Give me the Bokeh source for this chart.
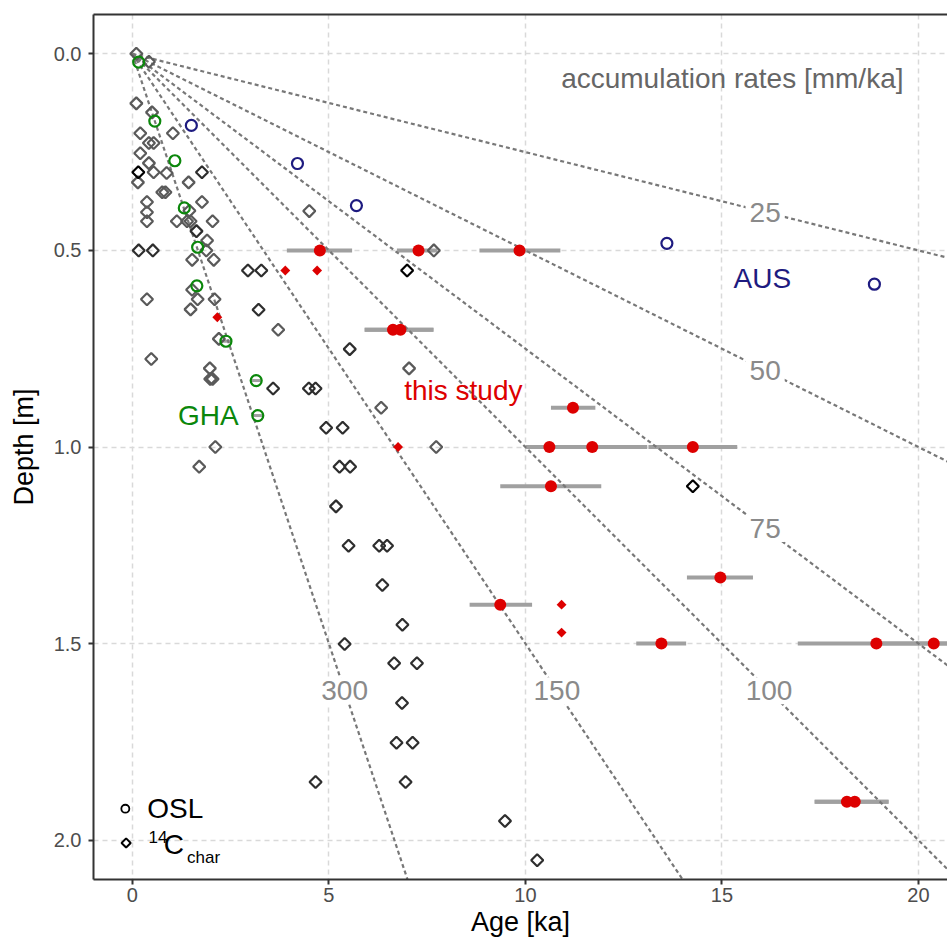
import math
from bokeh.plotting import figure
from bokeh.models import (Range1d, FixedTicker, PrintfTickFormatter, LinearAxis,
                          Label, ColumnDataSource)
from bokeh.embed import file_html
from bokeh.resources import INLINE

FONT = "Liberation Sans"

# ---------------- data ----------------
x_ticks = [0, 5, 10, 15, 20]
y_ticks = [0.0, 0.5, 1.0, 1.5, 2.0]

# accumulation rates [mm/ka] for the reference lines
rates = [25, 50, 75, 100, 150, 300]
rate_label_age = [16.1, 16.1, 16.1, 16.2, 10.8, 5.4]

# 14C charcoal ages, literature (grey)
c14_gray_age = [0.10, 0.42, 0.10, 0.50, 0.20, 1.03, 0.42, 0.54, 0.20, 0.42,
                0.54, 0.87, 0.14, 1.43, 0.76, 0.84, 0.37, 1.77, 1.45, 0.37,
                0.37, 1.13, 1.39, 1.48, 2.04, 1.90, 1.88, 1.52, 2.07, 1.52,
                1.66, 0.37, 2.09, 1.48, 2.20, 0.48, 1.97, 1.98, 2.04, 2.11,
                1.70, 4.50, 7.67, 3.71, 6.33, 7.04, 7.73]
c14_gray_depth = [0.000, 0.020, 0.126, 0.149, 0.202, 0.202, 0.227, 0.227, 0.253, 0.278,
                  0.301, 0.303, 0.327, 0.327, 0.352, 0.352, 0.377, 0.377, 0.399, 0.403,
                  0.426, 0.426, 0.426, 0.426, 0.426, 0.475, 0.500, 0.524, 0.524, 0.600,
                  0.624, 0.624, 0.624, 0.650, 0.725, 0.776, 0.800, 0.827, 0.827, 1.000,
                  1.050, 0.400, 0.500, 0.702, 0.900, 0.800, 1.000]

# 14C charcoal ages, literature (dark)
c14_dark_age = [0.16, 0.52, 1.63, 1.77, 2.94, 3.28, 3.21, 3.58, 4.49, 4.66,
                5.53, 4.93, 5.35, 5.27, 5.54, 5.18, 5.50, 6.28, 6.48, 6.36,
                6.87, 5.40, 6.66, 7.24, 6.86, 6.72, 7.13, 6.95, 4.66, 9.48,
                10.30, 7.56, 9.64]
c14_dark_depth = [0.500, 0.500, 0.451, 0.301, 0.551, 0.551, 0.651, 0.851, 0.851, 0.851,
                  0.751, 0.951, 0.951, 1.050, 1.050, 1.151, 1.251, 1.251, 1.251, 1.351,
                  1.452, 1.501, 1.550, 1.550, 1.651, 1.752, 1.752, 1.852, 1.852, 1.951,
                  2.051, 2.152, 2.152]

# 14C charcoal ages, literature (black)
c14_black_age = [0.15, 6.99, 14.26]
c14_black_depth = [0.301, 0.551, 1.100]

# 14C charcoal ages, this study
c14_study_age = [3.89, 4.70, 2.16, 6.76, 10.92, 10.92]
c14_study_depth = [0.551, 0.551, 0.670, 1.000, 1.401, 1.472]

# OSL, GHA
gha_age = [0.16, 0.57, 1.08, 1.32, 1.66, 1.64, 2.38, 3.15, 3.19]
gha_depth = [0.021, 0.171, 0.272, 0.392, 0.492, 0.590, 0.731, 0.831, 0.920]
gha_err_lo = [0.16, 0.57, 1.08, 1.32, 1.66, 1.64, 2.25, 3.02, 3.06]
gha_err_hi = [0.16, 0.57, 1.08, 1.32, 1.66, 1.64, 2.51, 3.28, 3.32]

# OSL, AUS
aus_age = [1.50, 4.20, 5.70, 13.60, 18.88]
aus_depth = [0.182, 0.279, 0.386, 0.482, 0.586]

# OSL, this study (age, depth, error range)
osl_age = [4.77, 7.28, 9.85, 6.63, 6.82, 11.21, 10.61, 11.70, 14.26, 10.65,
           14.96, 9.36, 13.46, 18.93, 20.39, 18.18, 18.38]
osl_depth = [0.500, 0.500, 0.500, 0.702, 0.702, 0.900, 1.000, 1.000, 1.000, 1.100,
             1.332, 1.401, 1.500, 1.500, 1.500, 1.902, 1.902]
osl_lo = [3.93, 6.73, 8.83, 5.91, 5.91, 10.65, 10.00, 10.30, 13.13, 9.36,
          14.11, 8.58, 12.82, 16.93, 19.00, 17.36, 17.36]
osl_hi = [5.59, 7.76, 10.89, 7.66, 7.66, 11.78, 11.20, 13.10, 15.39, 11.93,
          15.79, 10.17, 14.09, 20.93, 21.80, 19.24, 19.24]

# ---------------- colours ----------------
RED = "#dd0000"
GREEN = "#0b870b"
NAVY = "#1e1b80"
BAR = "#a0a0a0"

p = figure(width=947, height=943, output_backend="svg", toolbar_location=None,
           x_range=Range1d(-0.99, 20.74), y_range=Range1d(2.1, -0.1),
           min_border_left=93, min_border_right=0, min_border_top=14,
           min_border_bottom=64,
           x_axis_label="Age [ka]", y_axis_label="Depth [m]")
p.outline_line_color = None
p.background_fill_color = "white"
p.border_fill_color = "white"

for ax in (p.xaxis[0], p.yaxis[0]):
    ax.axis_line_width = 2
    ax.axis_line_color = "#333333"
    ax.major_tick_line_color = "#333333"
    ax.major_tick_line_width = 2
    ax.major_tick_out = 5
    ax.major_tick_in = 0
    ax.minor_tick_line_color = None
    ax.major_label_text_font = FONT
    ax.major_label_text_font_size = "20px"
    ax.major_label_text_color = "#4d4d4d"
    ax.axis_label_text_font = FONT
    ax.axis_label_text_font_size = "27px"
    ax.axis_label_text_font_style = "normal"
    ax.axis_label_text_color = "black"

p.xaxis[0].ticker = FixedTicker(ticks=x_ticks)
p.yaxis[0].ticker = FixedTicker(ticks=y_ticks)
p.yaxis[0].formatter = PrintfTickFormatter(format="%.1f")
p.xaxis[0].major_label_standoff = 3
p.xaxis[0].axis_label_standoff = 2
p.yaxis[0].major_label_standoff = 7
p.yaxis[0].axis_label_standoff = 12

top = LinearAxis(ticker=FixedTicker(ticks=[]), axis_line_width=2,
                 axis_line_color="#333333", major_tick_out=0, major_tick_in=0,
                 minor_tick_out=0, minor_tick_in=0, major_label_standoff=0,
                 major_label_text_font_size="0px")
p.add_layout(top, "above")

p.grid.grid_line_color = "#d9d9d9"
p.grid.grid_line_dash = "5 4"
p.grid.grid_line_width = 1.5
p.xgrid.ticker = FixedTicker(ticks=x_ticks)
p.ygrid.ticker = FixedTicker(ticks=y_ticks)

# error bars (drawn first)
p.segment(x0=osl_lo, y0=osl_depth, x1=osl_hi, y1=osl_depth,
          line_color=BAR, line_width=4)
p.segment(x0=gha_err_lo, y0=gha_depth, x1=gha_err_hi, y1=gha_depth,
          line_color=BAR, line_width=3)

# accumulation-rate reference lines
age_end = 30.0
rate_src = ColumnDataSource(dict(
    x0=[0.0] * len(rates), y0=[0.0] * len(rates),
    x1=[age_end] * len(rates), y1=[r * age_end / 1000.0 for r in rates]))
p.segment(x0="x0", y0="y0", x1="x1", y1="y1", source=rate_src,
          line_color="#787878", line_width=2.2, line_dash="4 3")

DIAM = math.pi / 4
p.scatter(c14_gray_age, c14_gray_depth, marker="square", angle=DIAM, size=8.5,
          fill_color=None, line_color="#5a5a5a", line_width=2.2)
p.scatter(c14_dark_age, c14_dark_depth, marker="square", angle=DIAM, size=8.5,
          fill_color=None, line_color="#2e2e2e", line_width=2.2)
p.scatter(c14_black_age, c14_black_depth, marker="square", angle=DIAM, size=8.5,
          fill_color=None, line_color="#000000", line_width=2.2)
p.scatter(c14_study_age, c14_study_depth, marker="square", angle=DIAM, size=7,
          fill_color=RED, line_color=None)

p.scatter(gha_age, gha_depth, marker="circle", size=11, fill_color=None,
          line_color=GREEN, line_width=2.2)
p.scatter(aus_age, aus_depth, marker="circle", size=11, fill_color=None,
          line_color=NAVY, line_width=2.2)
p.scatter(osl_age, osl_depth, marker="circle", size=12, fill_color=RED,
          line_color=None)

# rate labels on the lines
for r, a in zip(rates, rate_label_age):
    p.add_layout(Label(x=a, y=r * a / 1000.0, text=str(r), text_font=FONT,
                       text_font_size="28px", text_color="#8a8a8a",
                       text_align="center", text_baseline="middle",
                       background_fill_color="white", padding=4))

def txt(x, y, s, color, size="28px", align="left"):
    p.add_layout(Label(x=x, y=y, text=s, text_font=FONT, text_font_size=size,
                       text_color=color, text_align=align, text_baseline="middle"))

txt(19.62, 0.063, "accumulation rates [mm/ka]", "#666666", align="right")
txt(16.03, 0.572, "AUS", NAVY, align="center")
txt(8.42, 0.857, "this study", RED, align="center")
txt(1.93, 0.920, "GHA", GREEN, align="center")

# legend (layout positions in data units)
legend_key_age = [-0.18, -0.16]
legend_key_depth = [1.920, 2.007]
p.scatter([legend_key_age[0]], [legend_key_depth[0]], marker="circle", size=8,
          fill_color=None, line_color="black", line_width=1.8)
p.scatter([legend_key_age[1]], [legend_key_depth[1]], marker="square", angle=DIAM,
          size=6.5, fill_color=None, line_color="black", line_width=2)
txt(0.38, 1.920, "OSL", "black")
txt(0.41, 1.993, "14", "black", size="17px")
txt(0.80, 2.011, "C", "black")
txt(1.39, 2.043, "char", "black", size="17px")

open("out.html", "w").write(file_html(p, INLINE))
